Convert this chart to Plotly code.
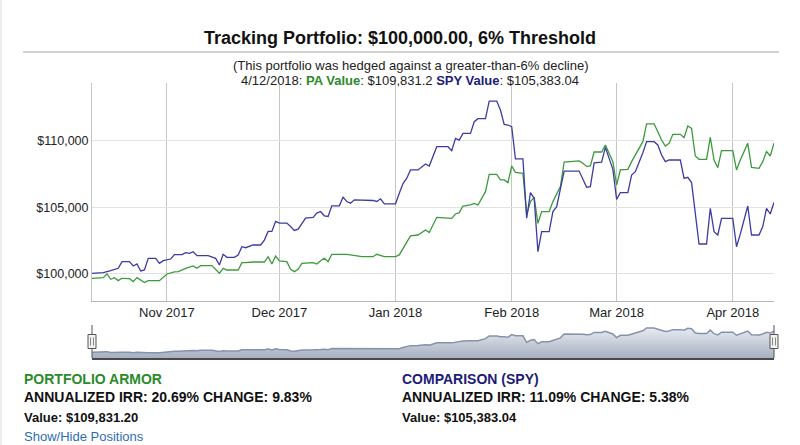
import plotly.graph_objects as go

# Portfolio Armor tracking portfolio vs SPY comparison (daily, weekends carried forward)
pa_dates = [
    "2017-10-12", "2017-10-15", "2017-10-16", "2017-10-17", "2017-10-18", "2017-10-19",
    "2017-10-20", "2017-10-22", "2017-10-23", "2017-10-24", "2017-10-26", "2017-10-27",
    "2017-10-30", "2017-11-01", "2017-11-03", "2017-11-04", "2017-11-06", "2017-11-08",
    "2017-11-09", "2017-11-10", "2017-11-13", "2017-11-14", "2017-11-15", "2017-11-16",
    "2017-11-17", "2017-11-20", "2017-11-21", "2017-11-22", "2017-11-24", "2017-11-27",
    "2017-11-28", "2017-11-29", "2017-11-30", "2017-12-01", "2017-12-03", "2017-12-04",
    "2017-12-05", "2017-12-06", "2017-12-07", "2017-12-10", "2017-12-11", "2017-12-12",
    "2017-12-13", "2017-12-14", "2017-12-15", "2017-12-19", "2017-12-21", "2017-12-23",
    "2017-12-26", "2017-12-27", "2017-12-29", "2018-01-01", "2018-01-02", "2018-01-03",
    "2018-01-05", "2018-01-07", "2018-01-09", "2018-01-10", "2018-01-12", "2018-01-16",
    "2018-01-17", "2018-01-18", "2018-01-19", "2018-01-21", "2018-01-22", "2018-01-23",
    "2018-01-25", "2018-01-26", "2018-01-28", "2018-01-29", "2018-01-30", "2018-01-31",
    "2018-02-01", "2018-02-02", "2018-02-04", "2018-02-05", "2018-02-06", "2018-02-07",
    "2018-02-08", "2018-02-09", "2018-02-11", "2018-02-12", "2018-02-14", "2018-02-15",
    "2018-02-19", "2018-02-20", "2018-02-21", "2018-02-22", "2018-02-23", "2018-02-25",
    "2018-02-26", "2018-02-28", "2018-03-01", "2018-03-02", "2018-03-04", "2018-03-05",
    "2018-03-06", "2018-03-08", "2018-03-09", "2018-03-11", "2018-03-12", "2018-03-13",
    "2018-03-14", "2018-03-15", "2018-03-16", "2018-03-18", "2018-03-19", "2018-03-20",
    "2018-03-21", "2018-03-22", "2018-03-23", "2018-03-25", "2018-03-26", "2018-03-27",
    "2018-03-28", "2018-03-29", "2018-04-01", "2018-04-02", "2018-04-03", "2018-04-05",
    "2018-04-06", "2018-04-08", "2018-04-09", "2018-04-10", "2018-04-11", "2018-04-12",
]
pa_values = [
    99675, 99725, 100000, 99600, 99725, 99500,
    99675, 99650, 99425, 99725, 99350, 99500,
    99500, 100000, 100150, 100175, 100425, 100600,
    100425, 100625, 100625, 100350, 100050, 100425,
    100300, 100300, 100850, 100850, 100900, 100900,
    101300, 100750, 101350, 100980, 100930, 100350,
    100175, 100350, 100800, 100850, 100750, 101000,
    101180, 100930, 101480, 101480, 101380, 101300,
    101300, 101480, 101300, 101300, 101430, 101930,
    102860, 102930, 103310, 103110, 104260, 104185,
    104510, 104610, 105110, 105190, 105310, 105190,
    106190, 107490, 107490, 107070, 107070, 106870,
    108120, 107640, 107570, 104440, 105440, 105760,
    103810, 104690, 104690, 105440, 106570, 108420,
    108500, 108320, 108090, 108120, 109170, 109170,
    109700, 108445, 106690, 107820, 107870, 108445,
    108950, 109950, 111280, 111280, 110700, 110070,
    109620, 109820, 110500, 110500, 110250, 111130,
    110950, 108870, 108620, 108620, 110275, 108570,
    107990, 109270, 109270, 107820, 108570, 109820,
    108020, 107945, 108445, 109200, 108870, 109831.2,
]

spy_dates = [
    "2017-10-12", "2017-10-15", "2017-10-17", "2017-10-19", "2017-10-20", "2017-10-22",
    "2017-10-23", "2017-10-24", "2017-10-25", "2017-10-26", "2017-10-27", "2017-10-29",
    "2017-10-30", "2017-10-31", "2017-11-02", "2017-11-03", "2017-11-05", "2017-11-06",
    "2017-11-07", "2017-11-08", "2017-11-09", "2017-11-12", "2017-11-14", "2017-11-15",
    "2017-11-16", "2017-11-17", "2017-11-19", "2017-11-20", "2017-11-21", "2017-11-22",
    "2017-11-24", "2017-11-26", "2017-11-27", "2017-11-28", "2017-11-29", "2017-11-30",
    "2017-12-01", "2017-12-03", "2017-12-04", "2017-12-05", "2017-12-06", "2017-12-08",
    "2017-12-10", "2017-12-11", "2017-12-12", "2017-12-13", "2017-12-14", "2017-12-15",
    "2017-12-17", "2017-12-18", "2017-12-19", "2017-12-20", "2017-12-21", "2017-12-25",
    "2017-12-26", "2017-12-27", "2017-12-28", "2017-12-29", "2018-01-01", "2018-01-02",
    "2018-01-03", "2018-01-04", "2018-01-05", "2018-01-07", "2018-01-08", "2018-01-09",
    "2018-01-10", "2018-01-12", "2018-01-15", "2018-01-16", "2018-01-17", "2018-01-18",
    "2018-01-19", "2018-01-21", "2018-01-22", "2018-01-23", "2018-01-25", "2018-01-26",
    "2018-01-28", "2018-01-29", "2018-01-30", "2018-01-31", "2018-02-01", "2018-02-02",
    "2018-02-04", "2018-02-05", "2018-02-06", "2018-02-07", "2018-02-08", "2018-02-09",
    "2018-02-11", "2018-02-12", "2018-02-13", "2018-02-15", "2018-02-19", "2018-02-20",
    "2018-02-21", "2018-02-22", "2018-02-23", "2018-02-25", "2018-02-26", "2018-02-28",
    "2018-03-01", "2018-03-02", "2018-03-04", "2018-03-05", "2018-03-06", "2018-03-08",
    "2018-03-09", "2018-03-11", "2018-03-12", "2018-03-13", "2018-03-14", "2018-03-15",
    "2018-03-18", "2018-03-19", "2018-03-20", "2018-03-21", "2018-03-22", "2018-03-23",
    "2018-03-25", "2018-03-26", "2018-03-27", "2018-03-28", "2018-03-29", "2018-04-01",
    "2018-04-02", "2018-04-03", "2018-04-05", "2018-04-06", "2018-04-08", "2018-04-09",
    "2018-04-10", "2018-04-11", "2018-04-12",
]
spy_values = [
    100050, 100100, 100250, 100425, 100930, 100930,
    100600, 100750, 100225, 100300, 101175, 101175,
    100800, 101000, 101125, 101450, 101450, 101600,
    101550, 101675, 101375, 101375, 101175, 100675,
    101475, 101250, 101250, 101425, 102050, 101975,
    102180, 102180, 102550, 103200, 103200, 103950,
    103825, 103825, 103575, 103275, 103375, 104200,
    104250, 104575, 104700, 104375, 104325, 105125,
    105125, 105775, 105450, 105325, 105575, 105575,
    105525, 105450, 105650, 105275, 105275, 106075,
    106800, 107200, 107820, 107820, 108070, 108270,
    108120, 109570, 109570, 109270, 110200, 110070,
    110575, 110575, 111450, 111680, 111680, 113000,
    113000, 112330, 111250, 111200, 111080, 108650,
    108650, 104190, 106120, 105690, 101680, 103180,
    103180, 104690, 105060, 107740, 107740, 107070,
    106520, 106570, 108350, 108400, 109520, 107870,
    105610, 106115, 106115, 107440, 107690, 109120,
    109950, 109950, 109700, 108950, 108445, 108570,
    108570, 107190, 107270, 106870, 104310, 102255,
    102255, 104940, 103180, 102930, 104185, 104185,
    102050, 103000, 105110, 102930, 102930, 103560,
    104940, 104510, 105383.04,
]

W, H = 800, 445
L, R, T, B = 92, 26, 83, 87


def px_x(p):
    # page pixel -> paper x
    return (p - L) / (W - L - R)


def px_y(p):
    # page pixel -> paper y
    return (H - B - p) / (H - T - B)


def tracking_chart():
    fig = go.Figure()

    fig.add_trace(go.Scatter(x=pa_dates, y=pa_values, mode='lines', name='PA',
                             line=dict(color='#3c9a3c', width=1.3),
                             xaxis='x', yaxis='y'))
    fig.add_trace(go.Scatter(x=spy_dates, y=spy_values, mode='lines', name='SPY',
                             line=dict(color='#3c3ca2', width=1.3),
                             xaxis='x', yaxis='y'))

    # navigator strip (PA series)
    lo, hi = min(pa_values), max(pa_values)
    nav_lo = lo - 0.2 * (hi - lo)
    nav_hi = hi + 0.12 * (hi - lo)
    fig.add_trace(go.Scatter(x=pa_dates, y=pa_values, mode='lines', fill='tozeroy',
                             fillgradient=dict(type='vertical', start=nav_lo, stop=nav_hi,
                                               colorscale=[[0, '#a7b0c1'], [1, '#eef0f5']]),
                             line=dict(color='#8592ab', width=1.5),
                             xaxis='x2', yaxis='y2', hoverinfo='skip'))

    main_bottom = px_y(300.7)
    nav_top = px_y(325)

    fig.update_layout(
        width=W, height=H,
        margin=dict(l=L, r=R, t=T, b=B),
        paper_bgcolor='white', plot_bgcolor='white',
        showlegend=False,
        font=dict(family='Liberation Sans, Arial, sans-serif', color='#222'),
        title=dict(text='<b>Tracking Portfolio: $100,000.00, 6% Threshold</b>',
                   x=0.5, xref='container', xanchor='center',
                   y=1 - 38 / H, yref='container', yanchor='middle',
                   font=dict(size=18, color='#111')),
        xaxis=dict(domain=[0, 1], anchor='y', type='date',
                   range=[pa_dates[0], pa_dates[-1]],
                   tick0='2017-11-01', dtick='M1', tickformat='%b %Y',
                   showgrid=True, gridcolor='#c6c6c6', gridwidth=1,
                   showline=True, linecolor='#b5b5b5', ticks='',
                   tickfont=dict(size=13, color='#222')),
        yaxis=dict(domain=[main_bottom, 1], anchor='x',
                   range=[97990, 114360], tick0=100000, dtick=5000,
                   tickprefix='$', tickformat=',.0f',
                   showgrid=True, gridcolor='#e2e2e2', zeroline=False,
                   showline=True, linecolor='#c4c4c4', ticks='',
                   tickfont=dict(size=12.5, color='#222')),
        xaxis2=dict(domain=[0, 1], anchor='y2', matches='x', type='date',
                    showticklabels=False, showgrid=False, ticks='',
                    showline=True, linecolor='#4a4a4a', linewidth=1.5),
        yaxis2=dict(domain=[0, nav_top], anchor='x2', range=[nav_lo, nav_hi],
                    visible=False),
    )

    shapes = []
    # rule under the title and thin page edge on the left
    shapes.append(dict(type='line', xref='paper', yref='paper',
                       x0=px_x(23), x1=px_x(779), y0=px_y(52), y1=px_y(52),
                       line=dict(color='#d2d2d2', width=2)))
    shapes.append(dict(type='line', xref='paper', yref='paper',
                       x0=px_x(1), x1=px_x(1), y0=px_y(0), y1=px_y(H),
                       line=dict(color='#dadada', width=1)))
    # navigator handles
    for side in (0, 1):
        shapes.append(dict(type='line', xref='x2 domain', yref='y2 domain',
                           x0=side, x1=side, y0=0, y1=1,
                           line=dict(color='#555', width=1)))
        shapes.append(dict(type='rect', xref='x2 domain', yref='y2 domain',
                           xsizemode='pixel', xanchor=side, x0=-4, x1=4,
                           ysizemode='pixel', yanchor=0.5, y0=-7, y1=7,
                           fillcolor='#f2f2f2', line=dict(color='#555', width=1)))
        for dx in (-1.5, 1.5):
            shapes.append(dict(type='line', xref='x2 domain', yref='y2 domain',
                               xsizemode='pixel', xanchor=side, x0=dx, x1=dx,
                               ysizemode='pixel', yanchor=0.5, y0=-4, y1=4,
                               line=dict(color='#888', width=1)))
    fig.update_layout(shapes=shapes)

    green = '#2b8a2b'
    navy = '#1c1c78'
    notes = [
        dict(text='(This portfolio was hedged against a greater-than-6% decline)',
             x=px_x(411), y=px_y(65), xanchor='center', size=13, color='#222'),
        dict(text="4/12/2018: <b><span style='color:%s'>PA Value</span></b>: $109,831.2 "
                  "<b><span style='color:%s'>SPY Value</span></b>: $105,383.04" % (green, navy),
             x=px_x(410), y=px_y(81), xanchor='center', size=13, color='#222'),
        dict(text='<b>PORTFOLIO ARMOR</b>', x=px_x(22), y=px_y(379),
             xanchor='left', size=14, color=green),
        dict(text='<b>ANNUALIZED IRR: 20.69% CHANGE: 9.83%</b>', x=px_x(22), y=px_y(397),
             xanchor='left', size=14, color='#111'),
        dict(text='<b>Value: $109,831.20</b>', x=px_x(22), y=px_y(417),
             xanchor='left', size=13, color='#111'),
        dict(text='<b>COMPARISON (SPY)</b>', x=px_x(400), y=px_y(379),
             xanchor='left', size=14, color=navy),
        dict(text='<b>ANNUALIZED IRR: 11.09% CHANGE: 5.38%</b>', x=px_x(400), y=px_y(397),
             xanchor='left', size=14, color='#111'),
        dict(text='<b>Value: $105,383.04</b>', x=px_x(400), y=px_y(417),
             xanchor='left', size=13, color='#111'),
        dict(text='Show/Hide Positions', x=px_x(22), y=px_y(436),
             xanchor='left', size=13, color='#2f6db3'),
    ]
    for n in notes:
        fig.add_annotation(text=n['text'], x=n['x'], y=n['y'], xref='paper', yref='paper',
                           xanchor=n['xanchor'], yanchor='middle', showarrow=False,
                           font=dict(size=n['size'], color=n['color']))

    # the page body has a default 8px margin; drop it so the figure sits at 0,0
    fig.write_html("out.html", config={'displayModeBar': False},
                   post_script="document.body.style.margin='0';")


tracking_chart()
